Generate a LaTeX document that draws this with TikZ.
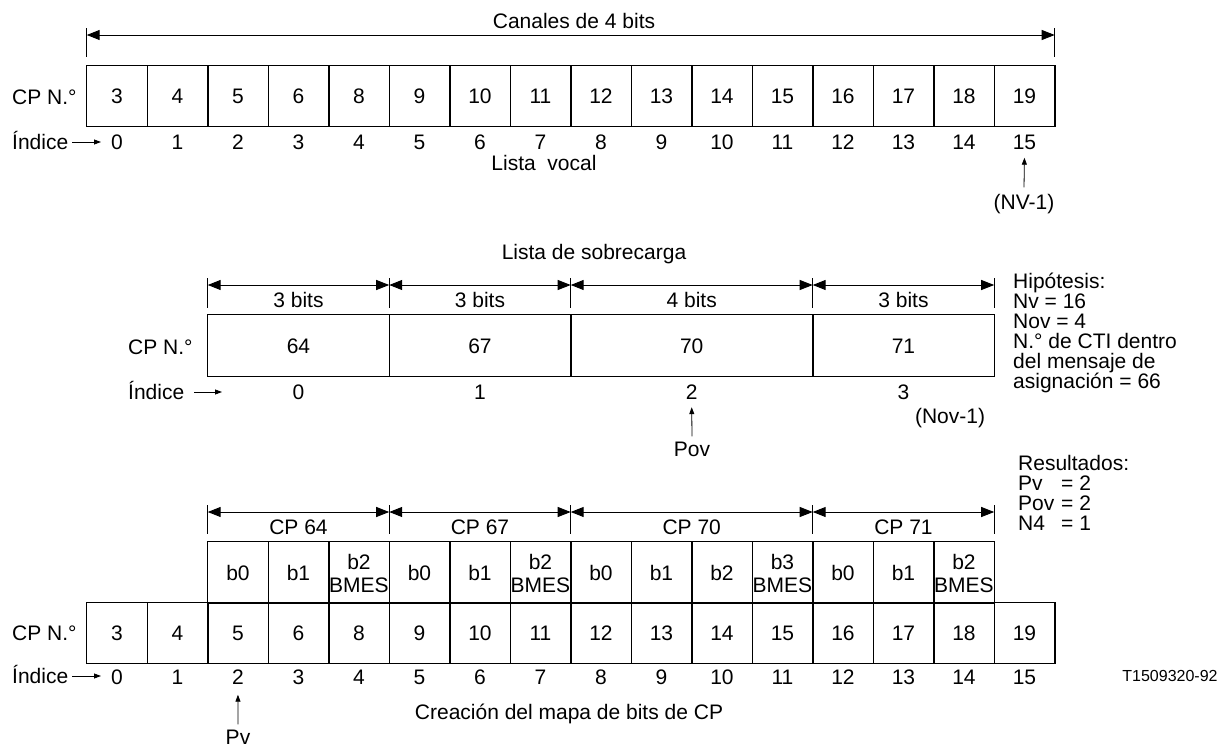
\documentclass[tikz,border=0pt]{standalone}
\usepackage{fontspec}
\setmainfont{Liberation Sans}
\usetikzlibrary{arrows.meta}
\begin{document}
\begin{tikzpicture}[x=1pt,y=-1pt,
  txt/.style={font=\fontsize{21}{21}\selectfont, inner sep=0pt, text height=15pt, text depth=0pt},
  small/.style={font=\fontsize{16}{16}\selectfont, inner sep=0pt, text height=11.5pt, text depth=0pt},
  cellbox/.style={txt, minimum height=60pt},
  outer/.style={line width=1.2pt},
  divider/.style={line width=1.8pt},
  dimline/.style={line width=1pt, {Triangle[length=13pt,width=10pt]}-{Triangle[length=13pt,width=10pt]}},
  tickline/.style={line width=0.8pt},
  ptr/.style={line width=0.8pt, -{Triangle[length=7pt,width=5pt]}},
]
\useasboundingbox (0,0) rectangle (1218,747);

% ---------------- top: Lista vocal ----------------
\node[txt] (canales) at (574,21) {Canales de 4 bits};
\coordinate (tl) at (86.7,35);
\coordinate (tr) at (1054.7,35);
\draw[dimline] (tl) -- (tr);
\draw[tickline] ([yshift=7pt]tl) -- ([yshift=-22pt]tl);
\draw[tickline] ([yshift=7pt]tr) -- ([yshift=-22pt]tr);

\foreach \v [count=\i from 0] in {3,4,5,6,8,9,10,11,12,13,14,15,16,17,18,19} {
  \node[cellbox, minimum width=60.5pt] (t\i) at ({86.7+(\i+0.5)*60.5},96) {\v};
  \node[txt] (ti\i) at ({86.7+(\i+0.5)*60.5},142) {\i};
}
\draw[outer] (t0.north west) rectangle (t15.south east);
\foreach \i in {0,...,14} \draw[divider] (t\i.north east) -- (t\i.south east);

\node[txt, anchor=west] (cpa) at (12,97) {CP N.°};
\node[txt, anchor=west] (idxa) at (12,142) {Índice};
\coordinate (idxaend) at (101,142);
\draw[ptr] ([xshift=4pt]idxa.east) -- (idxaend);
\node[txt] (lv) at (544,163) {Lista\ \ vocal};
\node[txt] (nv) at (1024,202) {(NV-1)};
\draw[ptr] ([yshift=7pt]nv.north) -- ([yshift=-8pt]ti15.south);

% ---------------- middle: Lista de sobrecarga ----------------
\node[txt] (lsob) at (594,252) {Lista de sobrecarga};
\node[cellbox, minimum width=181.5pt, minimum height=61pt] (m1) at (298.45,345.5) {64};
\node[cellbox, minimum width=181.5pt, minimum height=61pt] (m2) at (479.95,345.5) {67};
\node[cellbox, minimum width=242pt, minimum height=61pt] (m3) at (691.7,345.5) {70};
\node[cellbox, minimum width=181.5pt, minimum height=61pt] (m4) at (903.45,345.5) {71};
\draw[outer] (m1.north west) rectangle (m4.south east);
\foreach \i in {1,2,3} \draw[divider] (m\i.north east) -- (m\i.south east);

\coordinate (d0) at (207.7,285);
\coordinate (d1) at (389.2,285);
\coordinate (d2) at (570.7,285);
\coordinate (d3) at (812.7,285);
\coordinate (d4) at (994.2,285);
\draw[dimline] (d0) -- (d1);
\draw[dimline] (d1) -- (d2);
\draw[dimline] (d2) -- (d3);
\draw[dimline] (d3) -- (d4);
\foreach \c in {d0,d1,d2,d3,d4} \draw[tickline] ([yshift=7pt]\c) -- ([yshift=-23pt]\c);
\node[txt] (sb1) at (298.45,300) {3 bits};
\node[txt] (sb2) at (479.95,300) {3 bits};
\node[txt] (sb3) at (691.7,300) {4 bits};
\node[txt] (sb4) at (903.45,300) {3 bits};

\node[txt] (mi0) at (298.45,392) {0};
\node[txt] (mi1) at (479.95,392) {1};
\node[txt] (mi2) at (691.7,392) {2};
\node[txt] (mi3) at (903.45,392) {3};

\node[txt, anchor=west] (cpb) at (128,347) {CP N.°};
\node[txt, anchor=west] (idxb) at (128,392) {Índice};
\coordinate (idxbend) at (222,392);
\draw[ptr] ([xshift=10pt]idxb.east) -- (idxbend);
\node[txt] (nov) at (950,416) {(Nov-1)};
\node[txt] (pov) at (692,449) {Pov};
\draw[ptr] ([yshift=5pt]pov.north) -- ([yshift=-7.5pt]mi2.south);

% hypotheses
\node[txt, anchor=base west] (h1) at (1013,288) {Hipótesis:};
\node[txt, anchor=base west] (h2) at (1013,308) {Nv = 16};
\node[txt, anchor=base west] (h3) at (1013,328) {Nov = 4};
\node[txt, anchor=base west] (h4) at (1013,348) {N.° de CTI dentro};
\node[txt, anchor=base west] (h5) at (1013,368) {del mensaje de};
\node[txt, anchor=base west] (h6) at (1013,388) {asignación = 66};

% results
\node[txt, anchor=base west] (r1) at (1018,470) {Resultados:};
\node[txt, anchor=base west] (r2) at (1018,490) {Pv};
\node[txt, anchor=base west] (r2v) at (1061,490) {= 2};
\node[txt, anchor=base west] (r3) at (1018,510) {Pov};
\node[txt, anchor=base west] (r3v) at (1061,510) {= 2};
\node[txt, anchor=base west] (r4) at (1018,530) {N4};
\node[txt, anchor=base west] (r4v) at (1061,530) {= 1};

% ---------------- bottom: mapa de bits ----------------
\coordinate (e0) at (207.7,512);
\coordinate (e1) at (389.2,512);
\coordinate (e2) at (570.7,512);
\coordinate (e3) at (812.7,512);
\coordinate (e4) at (994.2,512);
\draw[dimline] (e0) -- (e1);
\draw[dimline] (e1) -- (e2);
\draw[dimline] (e2) -- (e3);
\draw[dimline] (e3) -- (e4);
\foreach \c in {e0,e1,e2,e3,e4} \draw[tickline] ([yshift=7pt]\c) -- ([yshift=-22pt]\c);
\node[txt] (cp64) at (298.45,527) {CP 64};
\node[txt] (cp67) at (479.95,527) {CP 67};
\node[txt] (cp70) at (691.7,527) {CP 70};
\node[txt] (cp71) at (903.45,527) {CP 71};

\foreach \i in {0,...,12} {
  \node[cellbox, minimum width=60.5pt, minimum height=61pt] (u\i) at ({207.7+(\i+0.5)*60.5},572.5) {};
}
\foreach \i/\t in {0/b0,1/b1,3/b0,4/b1,6/b0,7/b1,8/b2,10/b0,11/b1} {
  \node[txt] (us\i) at ({207.7+(\i+0.5)*60.5},573) {\t};
}
\foreach \i/\t in {2/b2,5/b2,9/b3,12/b2} {
  \node[txt] (ua\i) at ({207.7+(\i+0.5)*60.5},562) {\t};
  \node[txt] (ub\i) at ({207.7+(\i+0.5)*60.5},585) {BMES};
}
\draw[outer] (u0.north west) rectangle (u12.south east);
\foreach \i in {0,...,11} \draw[divider] (u\i.north east) -- (u\i.south east);

\foreach \v [count=\i from 0] in {3,4,5,6,8,9,10,11,12,13,14,15,16,17,18,19} {
  \node[cellbox, minimum width=60.5pt] (l\i) at ({86.7+(\i+0.5)*60.5},633) {\v};
  \node[txt] (bi\i) at ({86.7+(\i+0.5)*60.5},677) {\i};
}
\draw[outer] (l0.north west) rectangle (l15.south east);
\foreach \i in {0,...,13} \draw[divider] (l\i.north east) -- (l\i.south east);
\draw[outer] (l14.north east) -- (l14.south east);

\node[txt, anchor=west] (cpc) at (12,633) {CP N.°};
\node[txt, anchor=west] (idxc) at (12,676) {Índice};
\coordinate (idxcend) at (101,676);
\draw[ptr] ([xshift=4pt]idxc.east) -- (idxcend);
\node[txt] (crea) at (569,712) {Creación del mapa de bits de CP};
\node[txt] (pv) at (238,737) {Pv};
\draw[ptr] ([yshift=5pt]pv.north) -- ([yshift=-10pt]bi2.south);
\node[small] (code) at (1170,676) {T1509320-92};
\end{tikzpicture}
\end{document}
